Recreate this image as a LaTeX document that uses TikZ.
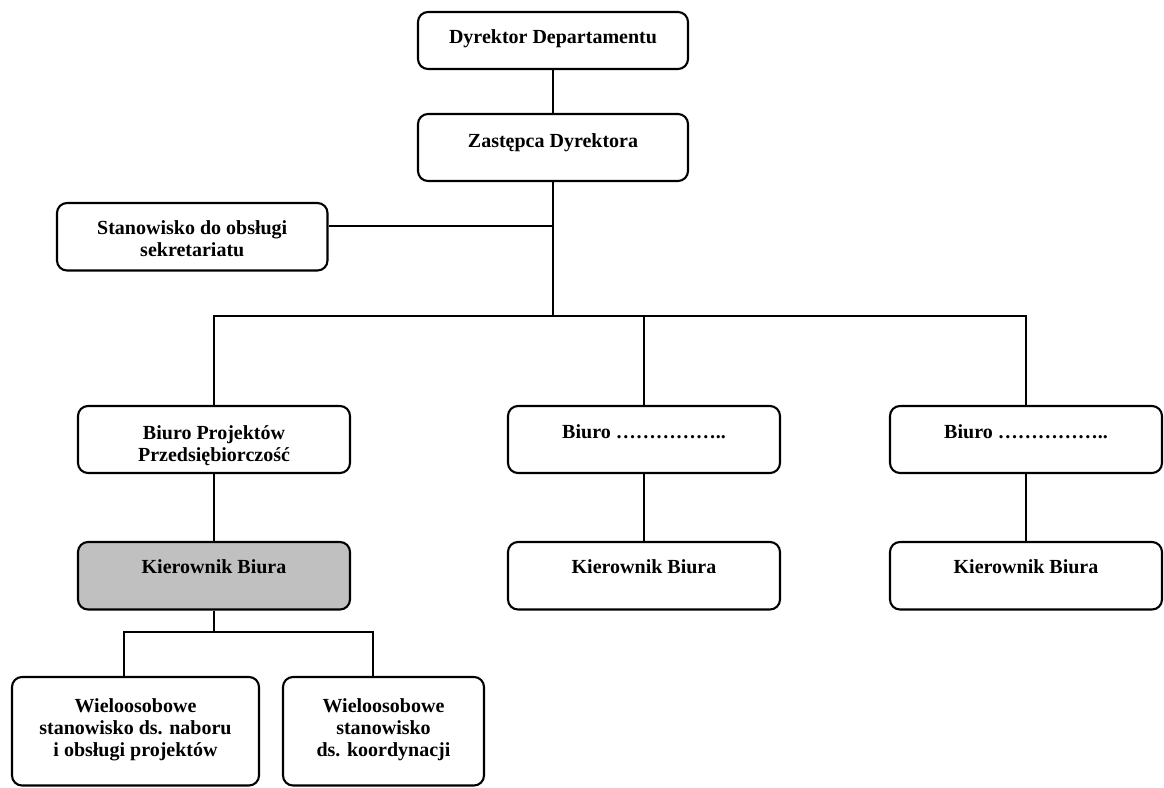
\documentclass[tikz,border=0pt]{standalone}
\usepackage{fontspec}
\setmainfont{Liberation Serif}
\begin{document}
\begin{tikzpicture}[x=1pt,y=-1pt,
  box/.style={draw, line width=2.1pt, rounded corners=10pt, inner sep=0pt, fill=white},
  headbox/.style={box, fill=boxgray},
  lbl/.style={font=\fontsize{20}{22}\selectfont\bfseries, align=center, inner sep=0pt, anchor=north},
  link/.style={line width=1.9pt}]
\definecolor{boxgray}{HTML}{C0C0C0}
\useasboundingbox (0,0) rectangle (1164,787);

% management
\node[box, minimum width=270, minimum height=57] (dd) at (553,40.5) {};
\node[box, minimum width=270, minimum height=67] (zd) at (553,147.5) {};
\node[box, minimum width=270.5, minimum height=67.5] (sek) at (192.25,236.75) {};

% offices
\node[box, minimum width=272, minimum height=67] (bp) at (214,439.5) {};
\node[box, minimum width=272, minimum height=67] (b2) at (644,439.5) {};
\node[box, minimum width=272, minimum height=67] (b3) at (1026,439.5) {};

% office heads
\node[headbox, minimum width=272, minimum height=67.5] (kb1) at (214,575.75) {};
\node[box, minimum width=272, minimum height=67.5] (kb2) at (644,575.75) {};
\node[box, minimum width=272, minimum height=67.5] (kb3) at (1026,575.75) {};

% posts
\node[box, minimum width=247, minimum height=108.5] (w1) at (135.5,731.25) {};
\node[box, minimum width=201, minimum height=108.5] (w2) at (383.5,731.25) {};

% labels
\node[lbl] (dd-t) at (553,29.5) {Dyrektor Departamentu};
\node[lbl] (zd-t) at (553,133.5) {Zastępca Dyrektora};
\node[lbl] (sek-t) at (192.25,220.5) {Stanowisko do obsługi\\sekretariatu};
\node[lbl] (bp-t) at (214,425.5) {Biuro Projektów\\Przedsiębiorczość};
\node[lbl] (b2-t) at (644,424.5) {Biuro ……………..};
\node[lbl] (b3-t) at (1026,424.5) {Biuro ……………..};
\node[lbl] (kb1-t) at (214,559.5) {Kierownik Biura};
\node[lbl] (kb2-t) at (644,559.5) {Kierownik Biura};
\node[lbl] (kb3-t) at (1026,559.5) {Kierownik Biura};
\node[lbl] (w1-t) at (135.5,698.5) {Wieloosobowe\\stanowisko ds. naboru\\i obsługi projektów};
\node[lbl] (w2-t) at (383.5,698.5) {Wieloosobowe\\stanowisko\\ds. koordynacji};

% connectors
\coordinate (hub) at (553,316);
\coordinate (sekj) at (553,226);
\coordinate (sub) at (214,632);
\coordinate (d1) at (124.3,632);
\coordinate (d2) at (373.3,632);

\draw[link] (dd.south) -- (zd.north);
\draw[link] (zd.south) -- (hub);
\draw[link] (sekj) -- (sekj -| sek.east);
\draw[link] (bp.north) |- (hub) -| (b3.north);
\draw[link] (b2.north) -- (b2.north |- hub);
\draw[link] (bp.south) -- (kb1.north);
\draw[link] (b2.south) -- (kb2.north);
\draw[link] (b3.south) -- (kb3.north);
\draw[link] (kb1.south) -- (sub);
\draw[link] (d1 |- w1.north) -- (d1) -- (d2) -- (d2 |- w2.north);
\end{tikzpicture}
\end{document}
